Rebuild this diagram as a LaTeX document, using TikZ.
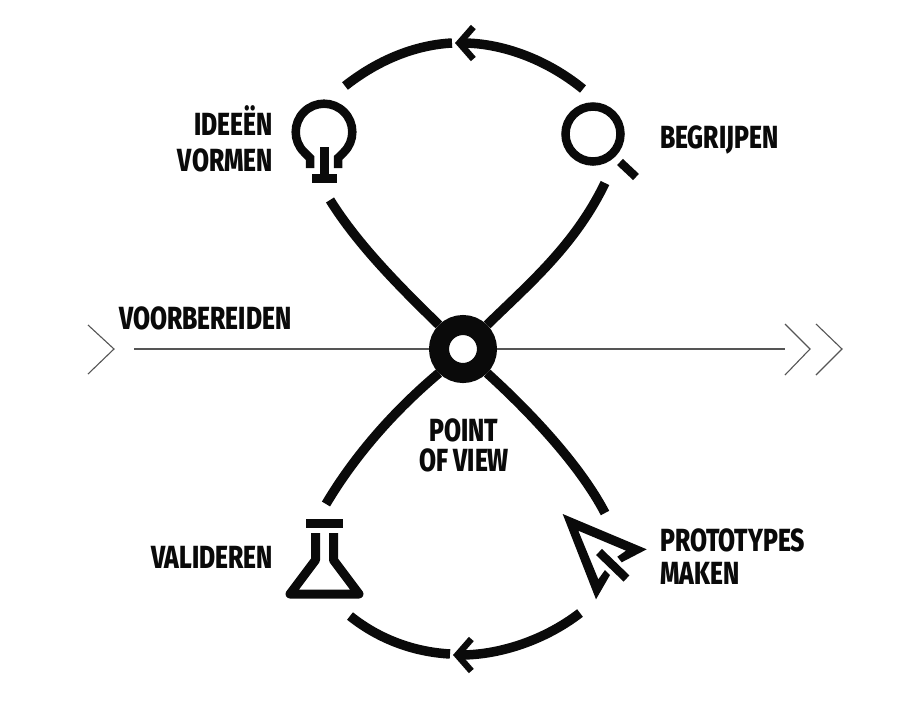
\documentclass[tikz,border=0pt]{standalone}
\usepackage{fontspec}
\setmainfont[FakeStretch=0.77,BoldFont={Fira Sans ExtraBold}]{Fira Sans}
\usetikzlibrary{arrows.meta}
\definecolor{zwart}{HTML}{0A0A0A}
\definecolor{grijs}{HTML}{555555}
\tikzset{
  lus/.style={zwart,line width=9.5pt},
  lusarrow/.style={lus,-{Straight Barb[length=14pt,width=32pt,line width=6.5pt]}},
  dun/.style={grijs,line width=1.1pt},
  icoon/.style={zwart,line width=8.5pt},
  lab/.style={zwart,font=\fontsize{32}{32}\selectfont\bfseries,inner sep=0pt}
}
\begin{document}
\begin{tikzpicture}[x=1pt,y=-1pt]
  \useasboundingbox (0,0) rectangle (906,716);
  \node[circle,draw=zwart,line width=20pt,fill=white,minimum size=48pt,inner sep=0pt] (pov) at (463,349) {};
  \coordinate (ideeonder) at (330,200);
  \coordinate (begriponder) at (605,183);
  \coordinate (validboven) at (326,504);
  \coordinate (protoboven) at (605,513);
  \coordinate (topr) at (583,89);
  \coordinate (toptip) at (455,43);
  \coordinate (topm) at (452,43);
  \coordinate (topl) at (345,86);
  \coordinate (bodr) at (580,613);
  \coordinate (bodtip) at (453,655);
  \coordinate (bodm) at (450,654);
  \coordinate (bodl) at (350,616);
  \coordinate (lijnl) at (134,349);
  \coordinate (lijnr) at (785,349);
  \draw[lus] (pov.135) .. controls (400,287) and (358,245) .. (ideeonder);
  \draw[lus] (pov.45) .. controls (530,283) and (575,245) .. (begriponder);
  \draw[lus] (pov.225) .. controls (395,410) and (355,455) .. (validboven);
  \draw[lus] (pov.-45) .. controls (530,412) and (580,465) .. (protoboven);
  \draw[lusarrow] (topr) .. controls (545,58) and (500,43) .. (toptip);
  \draw[lus] (topm) .. controls (415,45) and (378,60) .. (topl);
  \draw[lusarrow] (bodr) .. controls (545,640) and (500,655) .. (bodtip);
  \draw[lus] (bodm) .. controls (415,652) and (380,640) .. (bodl);
  \draw[dun] (lijnl) -- (pov.west);
  \draw[dun] (pov.east) -- (lijnr);
  \draw[dun] (88,325)--(114,349)--(88,374);
  \draw[dun] (785,324)--(810,349)--(785,375);
  \draw[dun] (816,324)--(842,349)--(816,375);
  \draw[icoon] (310,168)--(310,158)--(304,152) arc[start angle=135,end angle=405,radius=28.3]--(338,158)--(338,168);
  \fill[zwart] (320,147) rectangle (329,175);
  \fill[zwart] (312,174) rectangle (337,183);
  \draw[icoon] (593,134) circle[radius=27.5];
  \draw[icoon] (620,162)--(636,177);
  \fill[zwart] (306,519) rectangle (343,528);
  \draw[icoon,line width=9pt,line join=round] (315.5,533)--(315.5,560)--(290,594)--(359,594)--(333.5,560)--(333.5,533);
  \fill[zwart] (562.7,514)--(646.7,549.3)--(621.7,562.3)--(617.3,556.7)--(626,550.7)--(578.3,530.7)--(598.3,579.3)--(605,570)--(610,575)--(596,599.3)--cycle;
  \draw[icoon] (599,552)--(626.5,578.5);
  \node[lab,anchor=east] (idee) at (273,121) {IDEEËN};
  \node[lab,anchor=east] (vormen) at (273,160) {VORMEN};
  \node[lab,anchor=west] (begrijpen) at (660,140) {BEGRIJPEN};
  \node[lab,anchor=west] (voorbereiden) at (119,318) {VOORBEREIDEN};
  \node[lab] (point) at (464,430) {POINT};
  \node[lab] (ofview) at (464,460) {OF VIEW};
  \node[lab,anchor=east] (valideren) at (273,557) {VALIDEREN};
  \node[lab,anchor=west] (prototypes) at (660,540) {PROTOTYPES};
  \node[lab,anchor=west] (maken) at (660,573) {MAKEN};
\end{tikzpicture}
\end{document}
